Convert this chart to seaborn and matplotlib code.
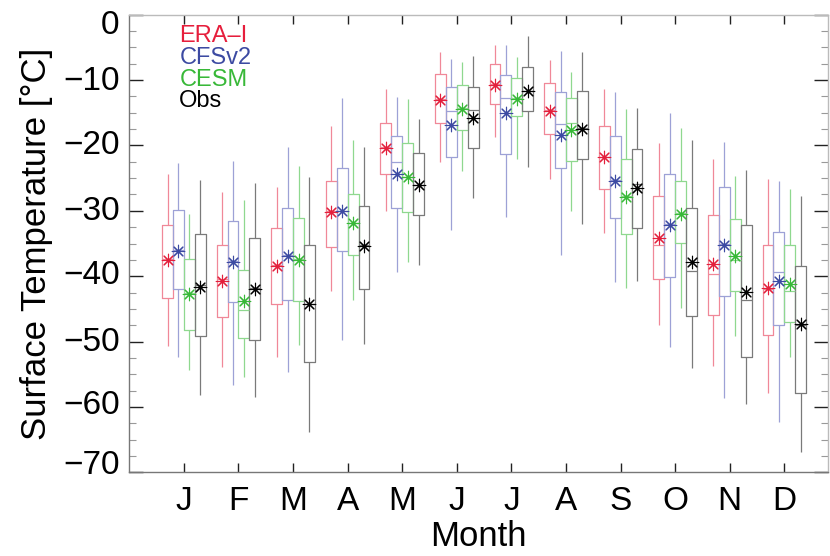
import numpy as np
import pandas as pd
import seaborn as sns
import matplotlib.pyplot as plt
import matplotlib.transforms as mtransforms
from matplotlib.ticker import MultipleLocator

# ---------------- data ----------------
months = ['Jan', 'Feb', 'Mar', 'Apr', 'May', 'Jun',
          'Jul', 'Aug', 'Sep', 'Oct', 'Nov', 'Dec']
month_labels = ['J', 'F', 'M', 'A', 'M', 'J', 'J', 'A', 'S', 'O', 'N', 'D']
models = ['ERA\u2013I', 'CFSv2', 'CESM', 'Obs']

# ERA-I
era_hi = [-24.4, -27.1, -26.4, -17.0, -11.4, -5.7, -4.7, -7.0, -11.4, -19.6, -22.1, -25.1]
era_q3 = [-32.1, -35.3, -32.7, -25.4, -16.6, -9.0, -7.5, -10.4, -17.1, -27.8, -30.6, -35.3]
era_med = [-37.4, -40.5, -38.3, -30.0, -20.3, -12.9, -10.6, -14.6, -21.7, -35.2, -39.6, -41.9]
era_q1 = [-43.4, -46.3, -44.2, -35.5, -24.4, -16.6, -13.7, -18.3, -26.7, -40.5, -46.0, -49.0]
era_lo = [-50.7, -53.9, -52.3, -42.2, -30.1, -22.5, -18.7, -25.2, -33.4, -47.5, -53.8, -57.9]
era_mean = [-37.6, -40.7, -38.4, -30.2, -20.4, -13.0, -10.7, -14.7, -21.8, -34.2, -38.2, -41.8]

# CFSv2
cfs_hi = [-22.7, -22.4, -20.3, -12.7, -12.6, -6.8, -4.6, -5.5, -11.8, -15.0, -19.4, -25.4]
cfs_q3 = [-29.9, -31.6, -29.6, -23.5, -18.6, -11.0, -9.2, -11.8, -18.6, -24.4, -26.4, -33.3]
cfs_med = [-36.0, -37.7, -36.8, -30.0, -22.6, -14.7, -12.8, -16.7, -25.3, -32.0, -35.1, -39.4]
cfs_q1 = [-41.9, -44.0, -43.6, -36.2, -29.6, -21.8, -21.3, -23.5, -31.1, -40.2, -43.0, -47.4]
cfs_lo = [-52.4, -56.6, -54.6, -49.7, -39.4, -32.9, -30.9, -36.8, -40.9, -50.9, -58.7, -62.3]
cfs_mean = [-36.1, -37.8, -36.9, -30.1, -24.3, -16.9, -15.1, -18.4, -25.4, -32.1, -35.2, -40.7]

# CESM
cesm_hi = [-30.5, -28.3, -23.2, -19.1, -12.9, -7.2, -6.5, -8.7, -14.4, -17.4, -24.7, -26.7]
cesm_q3 = [-37.3, -39.0, -31.1, -27.5, -19.6, -10.8, -9.7, -12.8, -22.1, -25.5, -31.3, -35.3]
cesm_med = [-42.5, -45.2, -37.4, -31.8, -24.8, -14.3, -12.8, -16.6, -27.8, -30.4, -37.6, -42.2]
cesm_q1 = [-48.3, -49.5, -43.8, -36.8, -30.2, -17.6, -15.5, -22.4, -33.5, -34.9, -42.3, -47.0]
cesm_lo = [-54.3, -55.4, -50.6, -43.6, -37.8, -23.9, -22.0, -30.0, -41.8, -44.8, -49.1, -52.4]
cesm_mean = [-42.7, -43.8, -37.5, -31.9, -24.9, -14.4, -12.9, -17.7, -27.9, -30.5, -36.9, -41.2]

# Observations
obs_hi = [-25.3, -25.8, -24.8, -20.2, -15.9, -6.3, -3.2, -5.7, -14.2, -19.1, -23.7, -27.8]
obs_q3 = [-33.6, -34.1, -35.3, -29.2, -21.2, -11.0, -8.0, -11.6, -20.6, -29.5, -32.1, -38.4]
obs_med = [-41.3, -41.8, -44.2, -35.3, -26.0, -14.6, -11.6, -17.4, -25.9, -39.2, -43.6, -47.5]
obs_q1 = [-49.2, -49.7, -53.2, -42.0, -30.7, -20.4, -14.8, -22.1, -32.7, -46.1, -52.4, -57.8]
obs_lo = [-58.1, -58.5, -63.8, -50.4, -38.3, -28.1, -23.3, -32.0, -40.7, -54.0, -59.6, -66.9]
obs_mean = [-41.6, -42.0, -44.3, -35.4, -26.1, -15.8, -11.7, -17.5, -26.5, -37.8, -42.4, -47.3]

# ---------------- styling ----------------
box_colors = ['#f08898', '#9da1d6', '#8fd88f', '#7a7a7a']
mark_colors = ['#e3203c', '#3c4aa2', '#38b838', '#000000']
text_colors = ['#e61e3c', '#3c4aa2', '#38b838', '#000000']

stats = {
    models[0]: (era_lo, era_q1, era_med, era_q3, era_hi, era_mean),
    models[1]: (cfs_lo, cfs_q1, cfs_med, cfs_q3, cfs_hi, cfs_mean),
    models[2]: (cesm_lo, cesm_q1, cesm_med, cesm_q3, cesm_hi, cesm_mean),
    models[3]: (obs_lo, obs_q1, obs_med, obs_q3, obs_hi, obs_mean),
}

box_rows = []
mean_rows = []
for m in models:
    lo, q1, med, q3, hi, mean = stats[m]
    for i, mon in enumerate(months):
        for v in (lo[i], q1[i], med[i], q3[i], hi[i]):
            box_rows.append({'month': mon, 'model': m, 'value': v})
        mean_rows.append({'month': mon, 'model': m, 'value': mean[i]})
box_df = pd.DataFrame(box_rows)
mean_df = pd.DataFrame(mean_rows)

sns.set_style('ticks')
plt.rcParams['font.family'] = ['Liberation Sans', 'DejaVu Sans']
plt.rcParams['text.color'] = 'black'
plt.rcParams['axes.labelcolor'] = 'black'
plt.rcParams['xtick.labelcolor'] = 'black'
plt.rcParams['ytick.labelcolor'] = 'black'

fig, ax = plt.subplots(figsize=(8.3, 5.56), dpi=100)
fig.subplots_adjust(left=0.1558, right=0.9976, bottom=0.1505, top=0.9736)

sns.boxplot(data=box_df, x='month', y='value', hue='model',
            order=months, hue_order=models, palette=box_colors,
            whis=(0, 100), width=0.8, gap=0, fill=False, showcaps=False,
            linewidth=0.9, legend=False, ax=ax)

sns.stripplot(data=mean_df, x='month', y='value', hue='model',
              order=months, hue_order=models, palette=mark_colors,
              dodge=True, jitter=False, marker=(8, 2, 0), size=9,
              linewidth=0.8, legend=False, zorder=5, ax=ax)

ax.set_xlim(-1, 11.8)
ax.set_ylim(-70, 0)
ax.set_xticks(range(len(months)))
ax.set_xticklabels(month_labels)
ax.yaxis.set_major_locator(MultipleLocator(10))
ax.yaxis.set_minor_locator(MultipleLocator(2.5))

ax.tick_params(axis='y', which='major', direction='in', length=10, width=1,
               color='#222222', right=True, labelsize=24, pad=7)
ax.tick_params(axis='y', which='minor', direction='in', length=5, width=0.8,
               color='#999999', right=True)
ax.tick_params(axis='x', which='major', direction='in', length=6.5, width=1,
               color='#222222', top=True, labelsize=24, pad=10)

# keep end labels inside the frame like the original (slight vertical nudges)
fig.canvas.draw()
label_shift_px = {0: -7, -10: 2, -20: 3, -30: 3, -40: 4, -50: 3, -60: 5, -70: 10}
for tick in ax.yaxis.get_major_ticks():
    val = int(round(tick.get_loc()))
    if val in label_shift_px:
        dy = label_shift_px[val] / 100.0
        tick.label1.set_transform(tick.label1.get_transform() +
                                  mtransforms.ScaledTranslation(0, dy, fig.dpi_scale_trans))

for side in ('left', 'bottom'):
    ax.spines[side].set_color('#777777')
    ax.spines[side].set_linewidth(1.0)
for side in ('top', 'right'):
    ax.spines[side].set_visible(True)
    ax.spines[side].set_color('#bbbbbb')
    ax.spines[side].set_linewidth(1.0)

ax.set_ylabel('Surface Temperature [\u00b0C]', fontsize=25, labelpad=7)
ax.set_xlabel('Month', fontsize=25, labelpad=2)

label_y = [0.941, 0.892, 0.844, 0.799]
for name, col, yy in zip(models, text_colors, label_y):
    ax.text(0.0716, yy, name, color=col, fontsize=17,
            transform=ax.transAxes, va='baseline', ha='left')

fig.savefig('out.png', dpi=100)
